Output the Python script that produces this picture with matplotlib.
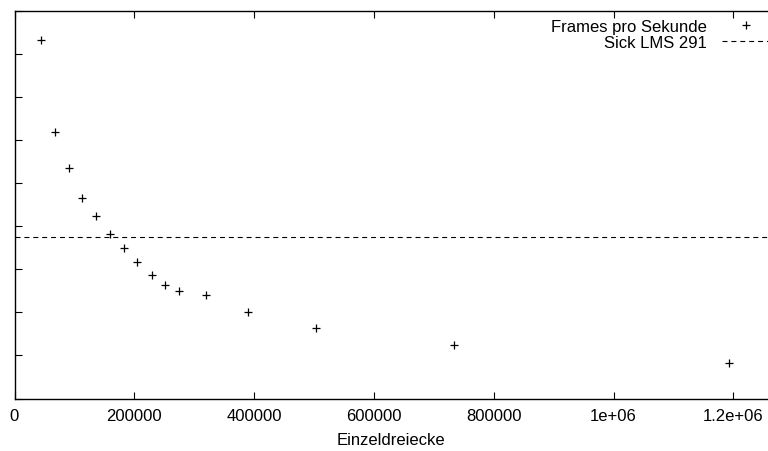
import matplotlib
matplotlib.use("Agg")
import matplotlib.pyplot as plt

# Messwerte: Anzahl Einzeldreiecke vs. Frames pro Sekunde
triangles = [44200, 67600, 91000, 113200, 136600, 159400, 182800, 205000,
             229000, 251800, 275100, 320500, 389800, 503800, 733700, 1193300]
fps = [166.3, 123.6, 107.1, 93.1, 84.9, 76.4, 70.0, 63.4,
       57.3, 52.9, 49.9, 47.9, 40.3, 32.8, 24.7, 16.4]
sick_lms_hz = 75

x_ticks = [0, 200000, 400000, 600000, 800000, 1000000, 1200000]
x_tick_labels = ["0", "200000", "400000", "600000", "800000", "1e+06", "1.2e+06"]
y_ticks = [0, 20, 40, 60, 80, 100, 120, 140, 160, 180]

plt.rcParams["font.family"] = ["Liberation Sans", "DejaVu Sans"]
fs = 12

W, H = 768, 452
fig = plt.figure(figsize=(W / 100, H / 100), dpi=100)
left, bottom_px, top_px = 14.5, 399.5, 11.8
ax = fig.add_axes([left / W, (H - bottom_px) / H, 1.0 - left / W, (bottom_px - top_px) / H])

ax.plot(triangles, fps, linestyle="none", marker="+", markersize=5.5,
        markeredgewidth=0.9, color="black", label="Frames pro Sekunde")
ax.axhline(sick_lms_hz, color="black", linewidth=0.8, dashes=(4.5, 3.5),
           label="Sick LMS 291")

ax.set_xlim(0, (W - left) / 119.8 * 200000)
ax.set_ylim(0, 180)
ax.set_xticks(x_ticks)
ax.set_xticklabels(x_tick_labels)
ax.set_yticks(y_ticks)
ax.set_yticklabels([])
ax.tick_params(direction="in", length=5, width=0.8, top=True, right=False,
               pad=7, labelsize=fs)
ax.spines["right"].set_visible(False)
for s in ["left", "bottom", "top"]:
    ax.spines[s].set_linewidth(1.0)
ax.set_xlabel("Einzeldreiecke", labelpad=6.5, fontsize=fs)

ax.legend(loc="upper right", bbox_to_anchor=(769 / W, 1 - 20 / H),
          bbox_transform=fig.transFigure, frameon=False, markerfirst=False,
          borderpad=0, borderaxespad=0, handlelength=2.8, handletextpad=0.9,
          labelspacing=0.04, fontsize=fs)

fig.savefig("out.png", dpi=100)
